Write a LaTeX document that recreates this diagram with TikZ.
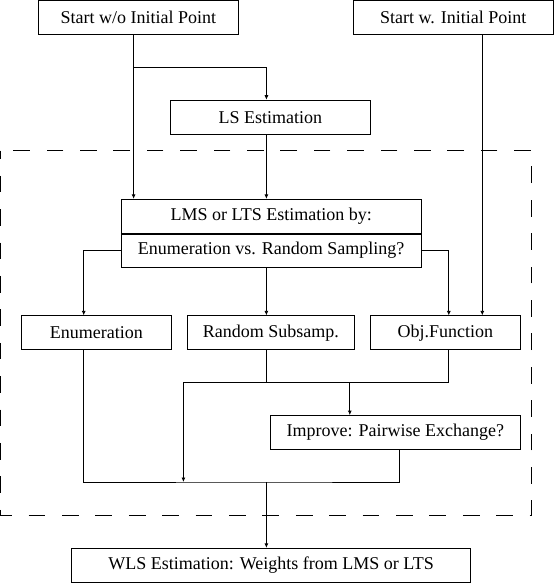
\documentclass[tikz,border=0pt]{standalone}
\usepackage{fontspec}
\setmainfont{Liberation Serif}
\usetikzlibrary{arrows.meta}

\tikzset{
	box/.style={draw, line width=0.8pt, inner sep=0pt, minimum height=34pt, font=\fontsize{18}{21}\selectfont},
	flow/.style={line width=0.8pt, -{Latex[length=4.5pt,width=4pt]}},
	link/.style={line width=0.8pt},
	frame/.style={line width=0.8pt, dash pattern=on 16.7pt off 16.7pt, dash phase=8.35pt},
}

\begin{document}
\begin{tikzpicture}[x=1pt, y=-1pt]
	\useasboundingbox (0,0) rectangle (554,583);
	
	\node[box, minimum width=200.3pt, minimum height=33.8pt] (start0) at (138.35,17.4) {Start w/o Initial Point};
	\node[box, minimum width=199.6pt, minimum height=33.8pt] (start1) at (453.2,17.4) {Start w. Initial Point};
	\node[box, minimum width=200pt] (ls) at (270.3,117.15) {LS Estimation};
	\node[box, minimum width=300pt] (lmsa) at (271.2,216.3) {LMS or LTS Estimation by:};
	\node[box, minimum width=300pt] (lmsb) at (271.2,250.3) {Enumeration vs. Random Sampling?};
	\node[box, minimum width=150.5pt] (enum) at (96.45,332.8) {Enumeration};
	\node[box, minimum width=167.1pt] (rand) at (270.85,332.8) {Random Subsamp.};
	\node[box, minimum width=150.2pt] (obj) at (445.4,332.8) {Obj.Function};
	\node[box, minimum width=250.2pt] (impr) at (395.4,432.5) {Improve: Pairwise Exchange?};
	\node[box, minimum width=399.3pt] (wls) at (271.05,565.3) {WLS Estimation: Weights from LMS or LTS};
	
	\coordinate (fork) at (133.6,67.3);
	\coordinate (colB) at (266.4,0);
	\coordinate (colC) at (482.3,0);
	\coordinate (colL) at (83.7,0);
	\coordinate (colR) at (448.8,0);
	\coordinate (split) at (183.4,382);
	\coordinate (colI) at (349.8,0);
	\coordinate (colO) at (399.3,0);
	\coordinate (join) at (266.4,482);
	
	\draw[line width=1.6pt] (lmsa.south west) -- (lmsa.south east);
	\draw[frame] (0.5,150.7) rectangle (531.8,515);
	
	\draw[flow] (start0.south -| fork) -- (lmsa.north -| fork);
	\draw[flow] (fork) -| (ls.north -| colB);
	\draw[flow] (ls.south -| colB) -- (lmsa.north -| colB);
	\draw[flow] (start1.south -| colC) -- (obj.north -| colC);
	\draw[flow] (lmsb.west) -| (enum.north -| colL);
	\draw[flow] (lmsb.east) -| (obj.north -| colR);
	\draw[flow] (lmsb.south -| colB) -- (rand.north -| colB);
	\draw[link] (rand.south -| colB) -- (colB |- split);
	\draw[link] (obj.south -| colR) |- (split);
	\draw[flow] (split) -- (split |- join);
	\draw[flow] (colI |- split) -- (impr.north -| colI);
	\draw[link] (enum.south -| colL) |- (join) -| (impr.south -| colO);
	\draw[flow] (join) -- (wls.north -| join);
\end{tikzpicture}
\end{document}
